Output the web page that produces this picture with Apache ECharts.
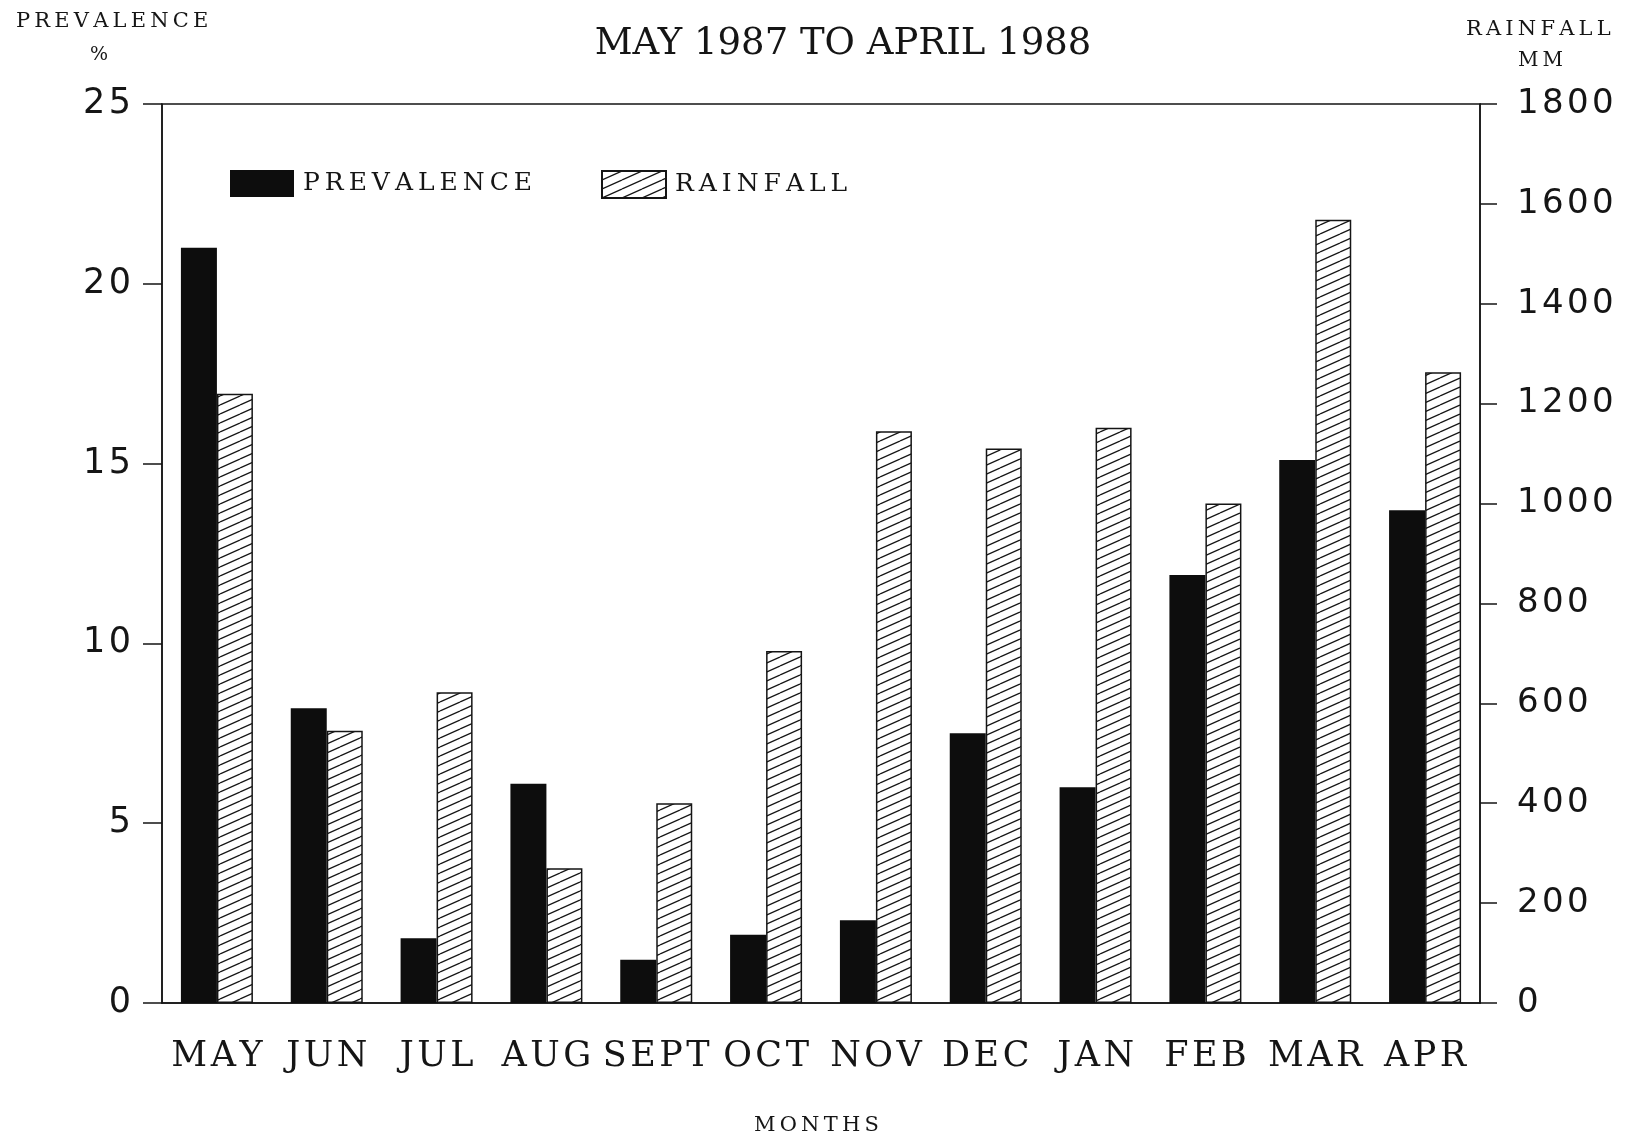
<!DOCTYPE html>
<html>
<head>
<meta charset="utf-8">
<script src="https://cdn.jsdelivr.net/npm/echarts@6/dist/echarts.min.js"></script>
<style>
  html, body { margin: 0; padding: 0; background: #fff; }
  #chart { width: 1628px; height: 1137px; }
</style>
</head>
<body>
<div id="chart"></div>
<script>
const months = ['MAY', 'JUN', 'JUL', 'AUG', 'SEPT', 'OCT', 'NOV', 'DEC', 'JAN', 'FEB', 'MAR', 'APR']
const prevalence = [21.0, 8.2, 1.8, 6.1, 1.2, 1.9, 2.3, 7.5, 6.0, 11.9, 15.1, 13.7]
const rainfall = [1220, 545, 622, 270, 400, 705, 1145, 1110, 1152, 1000, 1568, 1263]

const ink = '#151515'
const serif = '"DejaVu Serif", "Liberation Serif", serif'
const sans = '"DejaVu Sans", sans-serif'

// spread letters a bit, like the typewriter-ish lettering of the scan
const spaced = (s, gap = '\u2009') => String(s).split('').join(gap)

// diagonal "/" hatch fill for the rainfall bars
const makeHatch = () => {
  const w = 20, h = 9
  const c = document.createElement('canvas')
  c.width = w
  c.height = h
  const ctx = c.getContext('2d')
  ctx.fillStyle = '#fff'
  ctx.fillRect(0, 0, w, h)
  ctx.strokeStyle = ink
  ctx.lineWidth = 1.3
  ctx.beginPath()
  for (let k = -1; k <= 1; k++) {
    ctx.moveTo(0, h + k * h)
    ctx.lineTo(w, k * h)
  }
  ctx.stroke()
  return c
}
const hatch = { image: makeHatch(), repeat: 'repeat' }

const chart = echarts.init(document.getElementById('chart'))

const legendBase = {
  orient: 'horizontal',
  top: 165,
  itemWidth: 64,
  itemHeight: 27,
  icon: 'rect',
  selectedMode: false,
  textStyle: { color: ink, fontSize: 25, fontFamily: serif, padding: [4, 0, 0, 4] },
  formatter: (name) => spaced(name),
}

chart.setOption({
  backgroundColor: '#fff',
  animation: false,
  grid: {
    left: 162,
    right: 148,
    top: 104,
    bottom: 134,
    show: true,
    borderColor: ink,
    borderWidth: 1.5,
  },
  legend: [
    { ...legendBase, left: 225, data: ['PREVALENCE'] },
    { ...legendBase, left: 596, data: ['RAINFALL'] },
  ],
  graphic: [
    {
      type: 'text', x: 843, y: 26,
      style: { text: 'MAY 1987 TO APRIL 1988', fill: ink, font: `37px ${serif}`, align: 'center' },
    },
    {
      type: 'text', left: 16, top: 11,
      style: { text: spaced('PREVALENCE'), fill: ink, font: `21px ${serif}` },
    },
    {
      type: 'text', left: 90, top: 46,
      style: { text: '%', fill: ink, font: `19px ${serif}` },
    },
    {
      type: 'text', left: 1466, top: 19,
      style: { text: spaced('RAINFALL'), fill: ink, font: `21px ${serif}` },
    },
    {
      type: 'text', left: 1518, top: 51,
      style: { text: spaced('MM'), fill: ink, font: `20px ${serif}` },
    },
    {
      type: 'text', left: 754, top: 1115,
      style: { text: spaced('MONTHS'), fill: ink, font: `21px ${serif}` },
    },
  ],
  xAxis: {
    type: 'category',
    data: months,
    axisLine: { lineStyle: { color: ink, width: 1.5 } },
    axisTick: { alignWithLabel: true, length: 17, lineStyle: { color: ink, width: 1.5 } },
    axisLabel: {
      color: ink, fontSize: 35, fontFamily: serif, margin: 36, interval: 0,
      formatter: (v) => spaced(v, '\u200a'),
    },
  },
  yAxis: [
    {
      type: 'value',
      min: 0,
      max: 25,
      interval: 5,
      position: 'left',
      splitLine: { show: false },
      axisLine: { show: true, lineStyle: { color: ink, width: 1.5 } },
      axisTick: { show: true, length: 19, lineStyle: { color: ink, width: 1.5 } },
      axisLabel: {
        color: ink, fontSize: 35, fontFamily: sans, margin: 31,
        formatter: (v) => spaced(v, '\u200a'),
      },
    },
    {
      type: 'value',
      min: 0,
      max: 1800,
      interval: 200,
      position: 'right',
      splitLine: { show: false },
      axisLine: { show: true, lineStyle: { color: ink, width: 1.5 } },
      axisTick: { show: true, length: 17, lineStyle: { color: ink, width: 1.5 } },
      axisLabel: {
        color: ink, fontSize: 34, fontFamily: sans, margin: 37,
        formatter: (v) => spaced(v, '\u200a'),
      },
    },
  ],
  series: [
    {
      name: 'PREVALENCE',
      type: 'bar',
      yAxisIndex: 0,
      data: prevalence,
      barWidth: 36,
      barGap: '0%',
      itemStyle: { color: '#0d0d0d' },
    },
    {
      name: 'RAINFALL',
      type: 'bar',
      yAxisIndex: 1,
      data: rainfall,
      barWidth: 36,
      barGap: '0%',
      itemStyle: { color: hatch, borderColor: ink, borderWidth: 1.5 },
    },
  ],
})
</script>
</body>
</html>
